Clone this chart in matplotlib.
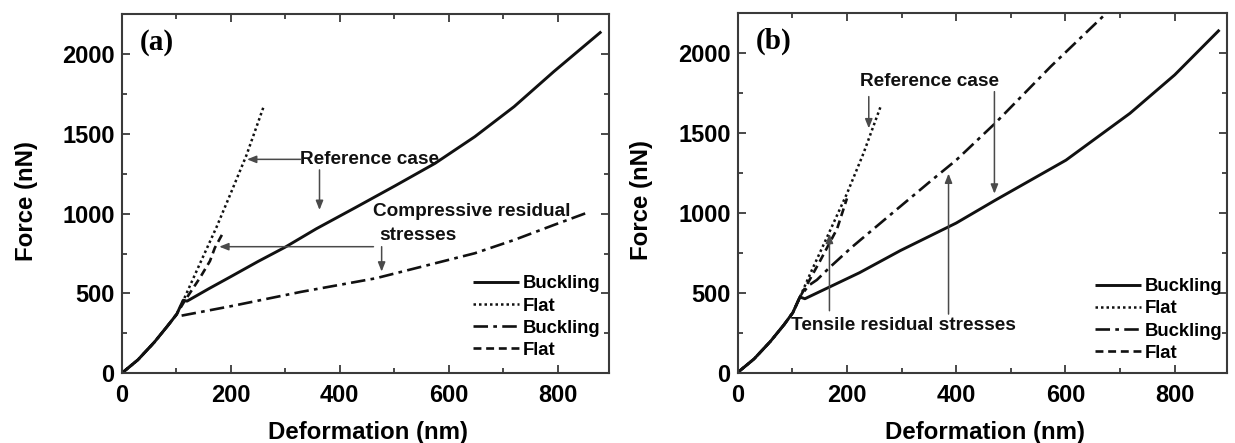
import matplotlib
matplotlib.use("Agg")
import matplotlib.pyplot as plt
from matplotlib.ticker import MultipleLocator

# ---------------- data ----------------
# Panel (a): compressive residual stresses
a_ref_buck_x = [0, 30, 60, 85, 101, 113, 120, 160, 200, 250, 300, 357, 430, 502, 575, 648, 720, 793, 880]
a_ref_buck_y = [0, 85, 195, 300, 370, 458, 452, 530, 605, 700, 790, 905, 1040, 1175, 1315, 1482, 1670, 1890, 2140]
a_ref_flat_x = [0, 30, 60, 85, 101, 113, 144, 174, 199, 229, 261]
a_ref_flat_y = [0, 85, 195, 300, 370, 455, 690, 915, 1118, 1366, 1675]
a_res_buck_x = [0, 30, 60, 85, 101, 108, 200, 329, 466, 575, 648, 720, 793, 851]
a_res_buck_y = [0, 85, 195, 300, 370, 360, 420, 510, 595, 689, 752, 835, 929, 1002]
a_res_flat_x = [0, 30, 60, 85, 101, 115, 128, 144, 162, 171, 186]
a_res_flat_y = [0, 85, 195, 300, 370, 450, 517, 600, 703, 786, 880]

# Panel (b): tensile residual stresses
b_ref_buck_x = [0, 30, 60, 85, 101, 114, 123, 169, 223, 298, 400, 471, 601, 718, 800, 882]
b_ref_buck_y = [0, 85, 195, 300, 375, 473, 462, 537, 625, 764, 936, 1078, 1330, 1623, 1864, 2146]
b_ref_flat_x = [0, 30, 60, 85, 101, 114, 133, 169, 200, 230, 262]
b_ref_flat_y = [0, 85, 195, 300, 375, 473, 620, 888, 1120, 1370, 1669]
b_res_buck_x = [0, 30, 60, 85, 101, 114, 130, 145, 169, 209, 282, 355, 400, 471, 573, 675]
b_res_buck_y = [0, 85, 195, 300, 375, 473, 545, 580, 660, 785, 995, 1204, 1330, 1560, 1916, 2251]
b_res_flat_x = [0, 30, 60, 85, 101, 114, 130, 151, 182, 200]
b_res_flat_y = [0, 85, 195, 300, 375, 473, 570, 700, 900, 1090]

legend_labels = ["Buckling", "Flat", "Buckling", "Flat"]
panel_labels = ["(a)", "(b)"]
x_label = "Deformation (nm)"
y_label = "Force (nN)"
x_ticks = [0, 200, 400, 600, 800]
y_ticks = [0, 500, 1000, 1500, 2000]

# ---------------- styles ----------------
SANS = "Liberation Sans"
SERIF = "Liberation Serif"
LINE_C = "#111111"
SPINE_C = "#3a3a3a"
ARROW_C = "#4a4a4a"
styles = [
    dict(ls="-", lw=2.1),
    dict(ls=(0, (1.0, 1.2)), lw=1.8),
    dict(ls=(0, (5.5, 2.0, 1.4, 2.0)), lw=1.9),
    dict(ls=(0, (3.0, 1.8)), lw=1.9),
]

fig = plt.figure(figsize=(12.35, 4.43), dpi=100)
ax_a = fig.add_axes([0.0985, 0.1573, 0.395, 0.811])
ax_b = fig.add_axes([0.5973, 0.1591, 0.3959, 0.811])


def style_axes(ax):
    ax.set_xlim(0, 895)
    ax.set_ylim(0, 2250)
    ax.xaxis.set_minor_locator(MultipleLocator(100))
    ax.yaxis.set_minor_locator(MultipleLocator(250))
    ax.set_xticks(x_ticks)
    ax.set_yticks(y_ticks)
    for s in ax.spines.values():
        s.set_color(SPINE_C)
        s.set_linewidth(1.5)
    ax.tick_params(which="both", direction="in", top=True, right=True,
                   color=SPINE_C, width=1.3)
    ax.tick_params(which="major", length=6)
    ax.tick_params(which="minor", length=3.5)
    ax.tick_params(axis="x", which="major", pad=8)
    ax.tick_params(axis="y", which="major", pad=5)
    for lab in ax.get_xticklabels() + ax.get_yticklabels():
        lab.set_fontfamily(SANS)
        lab.set_fontweight("bold")
        lab.set_fontsize(17)
    ax.set_xlabel(x_label, fontfamily=SANS, fontweight="bold", fontsize=17.3)
    ax.set_ylabel(y_label, fontfamily=SANS, fontweight="bold", fontsize=17.3)
    ax.xaxis.set_label_coords(0.505, -0.166)
    ax.yaxis.set_label_coords(-0.196, 0.48)
    ax.xaxis.label.set_va("center")
    ax.yaxis.label.set_va("center")


def draw(ax, series, leg_anchor):
    handles = []
    for (xs, ys), st in zip(series, styles):
        h, = ax.plot(xs, ys, color=LINE_C, solid_capstyle="butt",
                     dash_capstyle="butt", solid_joinstyle="round", **st)
        handles.append(h)
    leg = ax.legend(handles, legend_labels, loc="lower left",
                    bbox_to_anchor=leg_anchor, frameon=False,
                    borderpad=0, borderaxespad=0, handlelength=2.5,
                    handletextpad=0.2, labelspacing=0.28,
                    prop=dict(family=SANS, weight="bold", size=13.3))
    return leg


def arrow(ax, x0, y0, x1, y1):
    ax.annotate("", xy=(x1, y1), xytext=(x0, y0),
                arrowprops=dict(arrowstyle="-|>,head_length=0.5,head_width=0.2",
                                color=ARROW_C, lw=1.1,
                                mutation_scale=11, shrinkA=0, shrinkB=0))


txt = dict(fontfamily=SANS, fontweight="bold", fontsize=13.7, color="#111111")

# ---------------- panel (a) ----------------
style_axes(ax_a)
draw(ax_a, [(a_ref_buck_x, a_ref_buck_y), (a_ref_flat_x, a_ref_flat_y),
            (a_res_buck_x, a_res_buck_y), (a_res_flat_x, a_res_flat_y)],
     (0.72, 0.04))
ax_a.text(0.038, 0.922, panel_labels[0], transform=ax_a.transAxes,
          fontfamily=SERIF, fontweight="bold", fontsize=21, va="center", ha="left")
ax_a.text(328, 1340, "Reference case", ha="left", va="center", **txt)
arrow(ax_a, 328, 1340, 230, 1340)
arrow(ax_a, 363, 1274, 363, 1023)
ax_a.text(462, 1013, "Compressive residual", ha="left", va="center", **txt)
ax_a.text(473, 866, "stresses", ha="left", va="center", **txt)
arrow(ax_a, 462, 793, 179, 793)
arrow(ax_a, 477, 793, 477, 637)

# ---------------- panel (b) ----------------
style_axes(ax_b)
draw(ax_b, [(b_ref_buck_x, b_ref_buck_y), (b_ref_flat_x, b_ref_flat_y),
            (b_res_buck_x, b_res_buck_y), (b_res_flat_x, b_res_flat_y)],
     (0.731, 0.03))
ax_b.text(0.038, 0.922, panel_labels[1], transform=ax_b.transAxes,
          fontfamily=SERIF, fontweight="bold", fontsize=21, va="center", ha="left")
ax_b.text(224, 1822, "Reference case", ha="left", va="center", **txt)
arrow(ax_b, 240, 1728, 240, 1529)
arrow(ax_b, 470, 1759, 470, 1120)
ax_b.text(97, 293, "Tensile residual stresses", ha="left", va="center", **txt)
arrow(ax_b, 168, 387, 168, 869)
arrow(ax_b, 386, 366, 386, 1246)

fig.savefig("out.png", dpi=100)
